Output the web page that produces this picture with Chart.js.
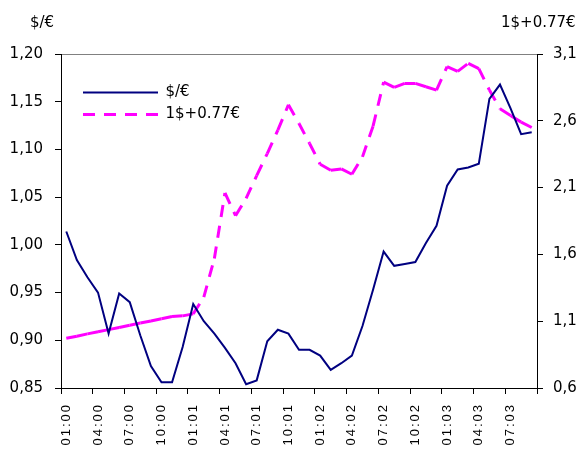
<!DOCTYPE html>
<html><head><meta charset="utf-8">
<script src="https://cdn.jsdelivr.net/npm/chart.js@4/dist/chart.umd.min.js"></script>
<style>html,body{margin:0;padding:0;background:#fff;}</style>
</head><body>
<canvas id="c" width="586" height="452"></canvas>
<script>
const months = [
  '01:00','02:00','03:00','04:00','05:00','06:00','07:00','08:00','09:00','10:00','11:00','12:00',
  '01:01','02:01','03:01','04:01','05:01','06:01','07:01','08:01','09:01','10:01','11:01','12:01',
  '01:02','02:02','03:02','04:02','05:02','06:02','07:02','08:02','09:02','10:02','11:02','12:02',
  '01:03','02:03','03:03','04:03','05:03','06:03','07:03','08:03','09:03'
];
const usdEur = [
  1.014, 0.984, 0.966, 0.950, 0.907, 0.949, 0.940, 0.905, 0.873, 0.856, 0.856, 0.893,
  0.938, 0.920, 0.907, 0.892, 0.876, 0.854, 0.858, 0.899, 0.911, 0.907, 0.890, 0.890,
  0.884, 0.869, 0.876, 0.884, 0.915, 0.953, 0.993, 0.978, 0.980, 0.982, 1.002, 1.020,
  1.062, 1.079, 1.081, 1.085, 1.153, 1.168, 1.143, 1.116, 1.118
];
const basket = [
  0.972, 0.988, 1.005, 1.021, 1.037, 1.053, 1.070, 1.086, 1.102, 1.119, 1.135, 1.140,
  1.155, 1.280, 1.570, 2.060, 1.890, 2.020, 2.190, 2.355, 2.530, 2.720, 2.580, 2.430,
  2.275, 2.230, 2.240, 2.200, 2.330, 2.560, 2.890, 2.850, 2.880, 2.880, 2.855, 2.830,
  3.005, 2.970, 3.030, 2.990, 2.830, 2.690, 2.640, 2.590, 2.550
];
const leftTicks = [0.85, 0.90, 0.95, 1.00, 1.05, 1.10, 1.15, 1.20];
const rightTicks = [0.6, 1.1, 1.6, 2.1, 2.6, 3.1];
const seriesNames = ['$/€', '1$+0.77€'];
const axisTitles = ['$/€', '1$+0.77€'];

Chart.defaults.color = '#000';
Chart.defaults.font.family = '"DejaVu Sans"';
Chart.defaults.font.size = 15;

const fmt = (v, d) => v.toFixed(d).replace('.', ',');
const DASH = [12, 9];

function segLen(c) {
  const a = c.p0, b = c.p1;
  if (!a || !b) return 100;
  return Math.hypot(b.x - a.x, b.y - a.y);
}

const xLabelSpacing = {
  id: 'xLabelSpacing',
  beforeDraw(chart) {
    const s = chart.scales.x;
    if (s && !s.__wrapped) {
      const orig = s.drawLabels.bind(s);
      s.drawLabels = function (area) {
        const c = this.ctx; c.save(); c.letterSpacing = '2px'; orig(area); c.restore();
      };
      s.__wrapped = true;
    }
  }
};

const legendPlace = {
  id: 'legendPlace',
  afterLayout(chart) {
    const L = chart.legend, a = chart.chartArea;
    if (!L) return;
    L.left = a.left + 15; L.top = a.top + 24;
    L.right = a.right; L.bottom = a.bottom;
  }
};

const axisTitlePlugin = {
  id: 'axisTitles',
  afterDraw(chart) {
    const c = chart.ctx;
    c.save();
    c.letterSpacing = '0px';
    c.font = '15px "DejaVu Sans"';
    c.fillStyle = '#000';
    c.textBaseline = 'middle';
    c.textAlign = 'left';
    c.fillText(axisTitles[0], 30, 23);
    c.fillText(axisTitles[1], 501, 23);
    c.restore();
  }
};

new Chart(document.getElementById('c'), {
  type: 'line',
  data: {
    labels: months,
    datasets: [
      { label: seriesNames[0], data: usdEur, yAxisID: 'y', borderColor: '#000080', backgroundColor: '#000080',
        borderWidth: 2, pointRadius: 0, tension: 0, fill: false },
      { label: seriesNames[1], data: basket, yAxisID: 'y1', borderColor: '#FF00FF', backgroundColor: '#FF00FF',
        borderWidth: 3, borderDash: DASH, pointRadius: 0, tension: 0, fill: false,
        segment: {
          borderDash: c => segLen(c) <= 13 ? [] : DASH,
          borderDashOffset: c => (c.p0DataIndex % 2) * 0.01
        } }
    ]
  },
  options: {
    responsive: false,
    animation: false,
    layout: { padding: { top: 54, left: 0, right: 0, bottom: 0 } },
    plugins: {
      legend: {
        position: 'chartArea', align: 'start',
        labels: {
          usePointStyle: true, pointStyle: 'line', pointStyleWidth: 75, padding: 7,
          font: { size: 15 }, color: '#000',
          generateLabels(chart) {
            const items = Chart.defaults.plugins.legend.labels.generateLabels(chart);
            items.forEach(it => {
              const ds = chart.data.datasets[it.datasetIndex];
              it.lineDash = ds.borderDash || [];
              it.lineWidth = ds.borderWidth;
              it.strokeStyle = ds.borderColor;
              it.fillStyle = ds.borderColor;
              it.pointStyle = 'line';
            });
            return items;
          }
        }
      },
      tooltip: { enabled: false }
    },
    scales: {
      x: {
        type: 'category', offset: true,
        grid: { offset: true, drawOnChartArea: false, drawTicks: true, tickLength: 6, tickWidth: 1,
                tickColor: c => (c.index === undefined || c.index % 3 === 0) ? '#000' : 'rgba(0,0,0,0)' },
        border: { color: '#000', width: 1 },
        ticks: { autoSkip: false, maxRotation: 90, minRotation: 90, padding: 9,
                 font: { family: '"Liberation Sans"', size: 13 },
                 callback: function (v, i) { return i % 3 === 0 ? this.getLabelForValue(v) : ''; } },
        afterFit: s => { s.height = 64; }
      },
      y: {
        position: 'left', min: 0.85, max: 1.2,
        afterBuildTicks: s => { s.ticks = leftTicks.map(v => ({ value: v })); },
        ticks: { padding: 12, callback: v => fmt(v, 2) },
        grid: { drawOnChartArea: true, tickLength: 6, tickColor: '#000',
                color: c => (c.tick && Math.abs(c.tick.value - 1.2) < 1e-9) ? '#808080' : 'rgba(0,0,0,0)' },
        border: { color: '#000', width: 1 },
        afterFit: s => { s.width = 61; }
      },
      y1: {
        position: 'right', min: 0.6, max: 3.1,
        afterBuildTicks: s => { s.ticks = rightTicks.map(v => ({ value: v })); },
        ticks: { padding: 10, callback: v => fmt(v, 1) },
        grid: { drawOnChartArea: false, tickLength: 6, tickColor: '#000' },
        border: { color: '#000', width: 1 },
        afterFit: s => { s.width = 49; }
      }
    }
  },
  plugins: [xLabelSpacing, legendPlace, axisTitlePlugin]
});
</script>
</body></html>
